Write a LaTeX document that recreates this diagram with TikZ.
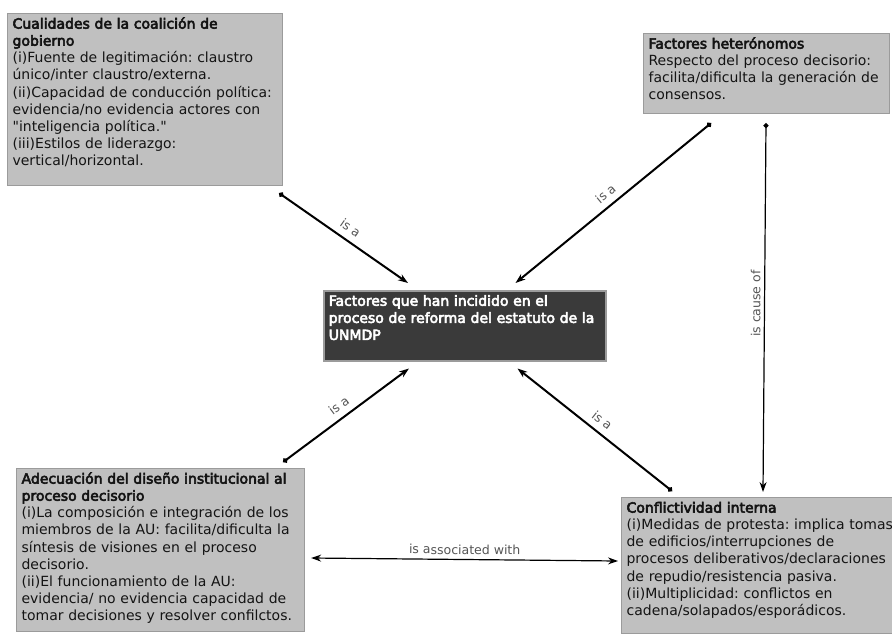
\documentclass[tikz,border=0pt]{standalone}
\usepackage{fontspec}
\setmainfont{DejaVu Sans}[BoldFont={DejaVu Sans},BoldFeatures={FakeBold=4}]
\usetikzlibrary{positioning, calc, arrows.meta}
\definecolor{boxgray}{RGB}{192,192,192}
\definecolor{boxline}{RGB}{155,155,155}
\definecolor{darkbox}{RGB}{58,58,58}
\definecolor{labelgray}{RGB}{85,85,85}
\definecolor{inkgray}{RGB}{20,20,20}
\frenchspacing
\tikzset{
  concept/.style={draw=boxline, fill=boxgray, line width=1.2, anchor=north west,
    inner xsep=5, inner ysep=3, align=left, text=inkgray, text height=12,
    font=\fontsize{14}{17.1}\selectfont},
  core/.style={concept, fill=darkbox, text=white, line width=1.5,
    font=\fontsize{14}{17.1}\selectfont\bfseries},
  isa/.style={line width=2, {Circle[length=5pt]}-{Stealth[length=10pt,width=7pt]}},
  causal/.style={line width=1.2, {Circle[length=5pt]}-{Stealth[length=10pt,width=7pt]}},
  assoc/.style={line width=1.2, {Stealth[length=10pt,width=7pt]}-{Stealth[length=10pt,width=7pt]}},
  rel/.style={font=\fontsize{12.5}{14}\selectfont, text=labelgray, midway}
}

\begin{document}
\begin{tikzpicture}[x=1pt, y=-1pt]
\useasboundingbox (0,0) rectangle (892,633);

\node [concept, text width=265, text depth=154] (cual) at (7,13)
  {\textbf{Cualidades de la coalición de\\ gobierno}\\
   (i)Fuente de legitimación: claustro\\ único/inter claustro/externa.\\
   (ii)Capacidad de conducción política:\\ evidencia/no evidencia actores con\\
   \textquotedbl inteligencia política.\textquotedbl\\ (iii)Estilos de liderazgo:\\ vertical/horizontal.};

\node [concept, text width=236, text depth=62] (heter) at (643,33)
  {\textbf{Factores heterónomos}\\ Respecto del proceso decisorio:\\
   facilita/dificulta la generación de\\ consensos.};

\node [core, text width=272, text depth=52] (fact) at (323,290)
  {Factores que han incidido en el\\ proceso de reforma del estatuto de la\\ UNMDP};

\node [concept, text width=278, text depth=145] (adec) at (16,468)
  {\textbf{Adecuación del diseño institucional al\\ proceso decisorio}\\
   (i)La composición e integración de los\\ miembros de la AU: facilita/dificulta la\\
   síntesis de visiones en el proceso\\ decisorio.\\
   (ii)El funcionamiento de la AU:\\ evidencia/ no evidencia capacidad de\\
   tomar decisiones y resolver confilctos.};

\node [concept, text width=275, text depth=118] (confl) at (621,497)
  {\textbf{Conflictividad interna}\\ (i)Medidas de protesta: implica tomas\\
   de edificios/interrupciones de\\ procesos deliberativos/declaraciones\\
   de repudio/resistencia pasiva.\\ (ii)Multiplicidad: conflictos en\\
   cadena/solapados/esporádicos.};

% connector ends
\coordinate (cualout) at ($(cual.south east)+(-4,7)$);
\coordinate (factnw) at ($(fact.north west)+(85,-7)$);
\coordinate (heterout) at ($(heter.south west)+(68,9)$);
\coordinate (factne) at ($(fact.north east)+(-91,-7)$);
\coordinate (causeout) at ($(heter.south west)+(123,9)$);
\coordinate (conflin) at ($(confl.north west)+(142,-5)$);
\coordinate (adecout) at ($(adec.north east)+(-22,-6)$);
\coordinate (factsw) at ($(fact.south west)+(86,7)$);
\coordinate (conflout) at ($(confl.north west)+(51,-6)$);
\coordinate (factse) at ($(fact.south east)+(-89,7)$);
\coordinate (adecside) at ($(adec.north east)+(6,90)$);
\coordinate (conflside) at ($(confl.north west)+(-3,64)$);

\draw[isa] (cualout) -- (factnw) node[rel, sloped, above=3pt] {is a};
\draw[isa] (heterout) -- (factne) node[rel, sloped, above=3pt] {is a};
\draw[isa] (adecout) -- (factsw) node[rel, sloped, above=3pt] {is a};
\draw[isa] (conflout) -- (factse) node[rel, sloped, above=3pt] {is a};
\draw[causal] (causeout) -- (conflin) node[rel, rotate=90, above=4pt] {is cause of};
\draw[assoc] (adecside) -- (conflside) node[rel, sloped, above=1pt] {is associated with};

\end{tikzpicture}
\end{document}
